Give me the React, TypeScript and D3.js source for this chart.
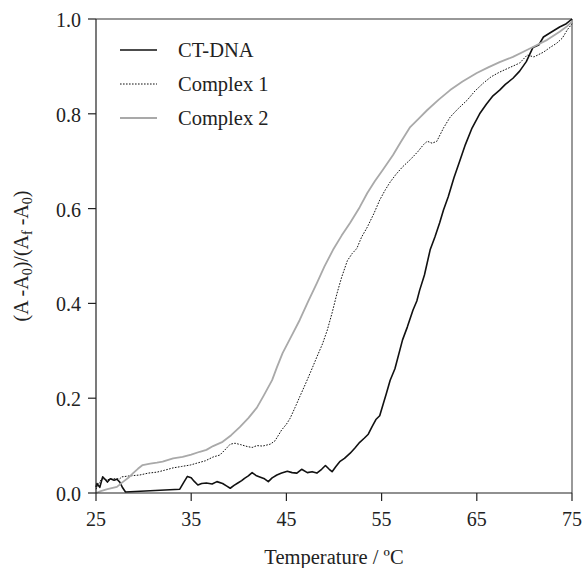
import * as d3 from "d3";

// Thermal denaturation profiles
const ctTemp = [25.0, 25.1, 25.4, 25.7, 26.0, 26.2, 26.5, 26.9, 27.2, 27.5, 27.8, 28.1, 33.8, 34.2, 34.6, 35.0, 35.3, 35.7, 36.1, 36.6, 37.2, 37.7, 38.3, 38.7, 39.1, 39.5, 39.9, 40.3, 40.6, 41.0, 41.4, 41.8, 42.2, 42.7, 43.1, 43.5, 44.0, 44.5, 45.1, 45.6, 46.1, 46.6, 47.2, 47.7, 48.2, 48.7, 49.1, 49.5, 49.8, 50.2, 50.6, 51.1, 51.7, 52.2, 52.7, 53.2, 53.6, 54.0, 54.4, 54.8, 55.2, 55.5, 55.9, 56.4, 57.2, 57.7, 58.3, 58.7, 59.0, 59.5, 60.1, 60.6, 61.1, 61.5, 62.0, 62.6, 63.2, 63.8, 64.5, 65.3, 66.0, 66.7, 67.4, 68.0, 68.8, 69.5, 70.2, 70.9, 71.5, 72.0, 72.8, 73.7, 74.4, 75.0];
const ctValue = [0.012, 0.02, 0.012, 0.034, 0.028, 0.023, 0.03, 0.027, 0.029, 0.023, 0.011, 0.002, 0.008, 0.022, 0.035, 0.032, 0.025, 0.017, 0.02, 0.021, 0.019, 0.024, 0.02, 0.015, 0.01, 0.016, 0.021, 0.026, 0.031, 0.036, 0.043, 0.037, 0.034, 0.03, 0.024, 0.032, 0.038, 0.042, 0.046, 0.043, 0.042, 0.05, 0.043, 0.045, 0.042, 0.05, 0.058, 0.05, 0.045, 0.056, 0.066, 0.073, 0.084, 0.095, 0.107, 0.116, 0.124, 0.14, 0.155, 0.163, 0.19, 0.21, 0.238, 0.262, 0.323, 0.35, 0.386, 0.405, 0.428, 0.46, 0.513, 0.54, 0.57, 0.597, 0.625, 0.665, 0.7, 0.735, 0.77, 0.8, 0.82, 0.838, 0.85, 0.862, 0.875, 0.89, 0.91, 0.94, 0.945, 0.962, 0.972, 0.983, 0.99, 1.0];

const c1Temp = [25.0, 25.3, 25.6, 26.2, 26.8, 27.5, 27.7, 28.5, 29.6, 30.5, 31.4, 32.2, 33.1, 34.0, 34.9, 35.6, 36.5, 37.3, 38.0, 38.5, 39.1, 39.6, 40.2, 40.9, 41.4, 41.9, 42.5, 43.3, 43.8, 44.5, 45.0, 45.4, 45.9, 46.4, 47.0, 47.6, 48.2, 48.8, 49.3, 49.8, 50.3, 50.8, 51.4, 51.9, 52.4, 52.9, 53.5, 54.2, 54.8, 55.4, 55.9, 56.5, 57.2, 58.0, 58.8, 59.4, 59.8, 60.3, 60.8, 61.5, 62.2, 63.0, 64.0, 64.8, 65.7, 66.5, 67.4, 68.5, 69.5, 70.3, 71.0, 72.0, 72.7, 73.4, 74.0, 74.5, 75.0];
const c1Value = [0.008, 0.02, 0.03, 0.028, 0.03, 0.03, 0.034, 0.036, 0.038, 0.042, 0.044, 0.048, 0.053, 0.056, 0.059, 0.063, 0.068, 0.076, 0.08, 0.09, 0.103, 0.105, 0.102, 0.098, 0.096, 0.1, 0.099, 0.103, 0.11, 0.133, 0.145, 0.158, 0.18, 0.203, 0.23, 0.258, 0.287, 0.315, 0.344, 0.38, 0.42, 0.455, 0.49, 0.505, 0.516, 0.54, 0.561, 0.59, 0.618, 0.64, 0.656, 0.672, 0.688, 0.703, 0.72, 0.735, 0.742, 0.738, 0.742, 0.77, 0.793, 0.81, 0.829, 0.848, 0.865, 0.878, 0.888, 0.898, 0.907, 0.924, 0.92, 0.93, 0.94, 0.949, 0.96, 0.977, 0.99];

const c2Temp = [25.0, 25.5, 26.2, 27.2, 27.8, 28.4, 28.9, 29.4, 29.9, 30.7, 31.4, 32.0, 33.1, 34.1, 35.0, 35.9, 36.6, 37.3, 38.3, 39.2, 40.1, 41.0, 41.9, 42.6, 43.5, 44.0, 44.6, 45.5, 46.4, 47.3, 48.2, 49.0, 49.9, 50.8, 51.7, 52.7, 53.5, 54.3, 55.1, 56.2, 57.0, 58.0, 58.9, 59.8, 61.0, 62.2, 63.5, 65.0, 66.2, 67.4, 68.8, 70.0, 70.9, 72.4, 73.7, 74.5, 75.0];
const c2Value = [0.0, 0.004, 0.008, 0.013, 0.023, 0.032, 0.042, 0.051, 0.059, 0.062, 0.064, 0.066, 0.073, 0.076, 0.081, 0.087, 0.091, 0.099, 0.108, 0.122, 0.139, 0.158, 0.18, 0.205, 0.238, 0.265, 0.295, 0.33, 0.365, 0.405, 0.443, 0.478, 0.513, 0.543, 0.57, 0.603, 0.633, 0.658, 0.681, 0.713, 0.74, 0.772, 0.79, 0.808, 0.83, 0.85, 0.868, 0.886, 0.898, 0.909, 0.92, 0.932, 0.941, 0.956, 0.973, 0.985, 0.995];

const xTicks = [25, 35, 45, 55, 65, 75];
const yTicks = [0, 0.2, 0.4, 0.6, 0.8, 1.0];

const seriesNames = ["CT-DNA", "Complex 1", "Complex 2"];

const FONT = '"Liberation Serif", "Times New Roman", Times, "DejaVu Serif", serif';
const W = 584;
const H = 568;
const margin = { top: 19, right: 12, bottom: 75, left: 96 };

const STYLES = [
  { stroke: "#111", width: 1.6, dash: "" },
  { stroke: "#111", width: 1, dash: "1.6,1.4" },
  { stroke: "#a9a9a9", width: 1.8, dash: "" },
];

const textStyle = { fontFamily: FONT };

export default function App() {
  const x = d3.scaleLinear().domain([25, 75]).range([margin.left, W - margin.right]);
  const y = d3.scaleLinear().domain([0, 1]).range([H - margin.bottom, margin.top]);

  const line = d3
    .line<[number, number]>()
    .x((d) => x(d[0]))
    .y((d) => y(d[1]));

  const series = [
    ctTemp.map((t, i) => [t, ctValue[i]] as [number, number]),
    c1Temp.map((t, i) => [t, c1Value[i]] as [number, number]),
    c2Temp.map((t, i) => [t, c2Value[i]] as [number, number]),
  ];

  const x0 = x(25);
  const x1 = x(75);
  const y0 = y(0);
  const y1 = y(1);

  return (
    <div style={{ position: "fixed", left: 0, top: 0 }}>
      <svg width={W} height={H} style={{ display: "block", background: "#fff", fontFamily: FONT }}>
        {/* frame */}
        <line x1={x0} x2={x1} y1={y1} y2={y1} stroke="#333" strokeWidth={1.2} />
        <line x1={x1} x2={x1} y1={y1} y2={y0} stroke="#555" strokeWidth={1.2} />

        {/* curves */}
        {series.map((s, i) => (
          <path
            key={seriesNames[i]}
            d={line(s) || ""}
            fill="none"
            stroke={STYLES[i].stroke}
            strokeWidth={STYLES[i].width}
            strokeDasharray={STYLES[i].dash || undefined}
            strokeLinejoin="round"
          />
        ))}

        {/* axes */}
        <line x1={x0} x2={x1} y1={y0} y2={y0} stroke="#222" strokeWidth={1.2} />
        <line x1={x0} x2={x0} y1={y1} y2={y0} stroke="#222" strokeWidth={1.2} />
        {xTicks.map((t) => (
          <g key={t}>
            <line x1={x(t)} x2={x(t)} y1={y0} y2={y0 + 8} stroke="#222" strokeWidth={1.2} />
            <text x={x(t)} y={y0 + 33} textAnchor="middle" fontSize={20} fill="#222" style={textStyle}>
              {t}
            </text>
          </g>
        ))}
        {yTicks.map((t) => (
          <g key={t}>
            <line x1={x0 - 8} x2={x0} y1={y(t)} y2={y(t)} stroke="#222" strokeWidth={1.2} />
            <text x={x0 - 15} y={y(t) + 8} textAnchor="end" fontSize={20} fill="#222" style={textStyle}>
              {t.toFixed(1)}
            </text>
          </g>
        ))}

        {/* axis titles */}
        <text x={(x0 + x1) / 2} y={H - 4} textAnchor="middle" fontSize={20.5} fill="#222" style={textStyle}>
          Temperature / ºC
        </text>
        <text
          transform={`translate(28,${(y0 + y1) / 2}) rotate(-90)`}
          textAnchor="middle"
          fontSize={20}
          fill="#222"
          style={textStyle}
        >
          (A -A<tspan fontSize={14} dy={4}>0</tspan>
          <tspan dy={-4}>)/(A</tspan>
          <tspan fontSize={14} dy={4}>f</tspan>
          <tspan dy={-4}> -A</tspan>
          <tspan fontSize={14} dy={4}>0</tspan>
          <tspan dy={-4}>)</tspan>
        </text>

        {/* legend */}
        {seriesNames.map((name, i) => {
          const ly = 50 + i * 34;
          return (
            <g key={name}>
              <line
                x1={120}
                x2={157}
                y1={ly}
                y2={ly}
                stroke={STYLES[i].stroke}
                strokeWidth={STYLES[i].width}
                strokeDasharray={STYLES[i].dash || undefined}
              />
              <text x={178} y={ly + 7} fontSize={20.5} fill="#222" style={textStyle}>
                {name}
              </text>
            </g>
          );
        })}
      </svg>
    </div>
  );
}
